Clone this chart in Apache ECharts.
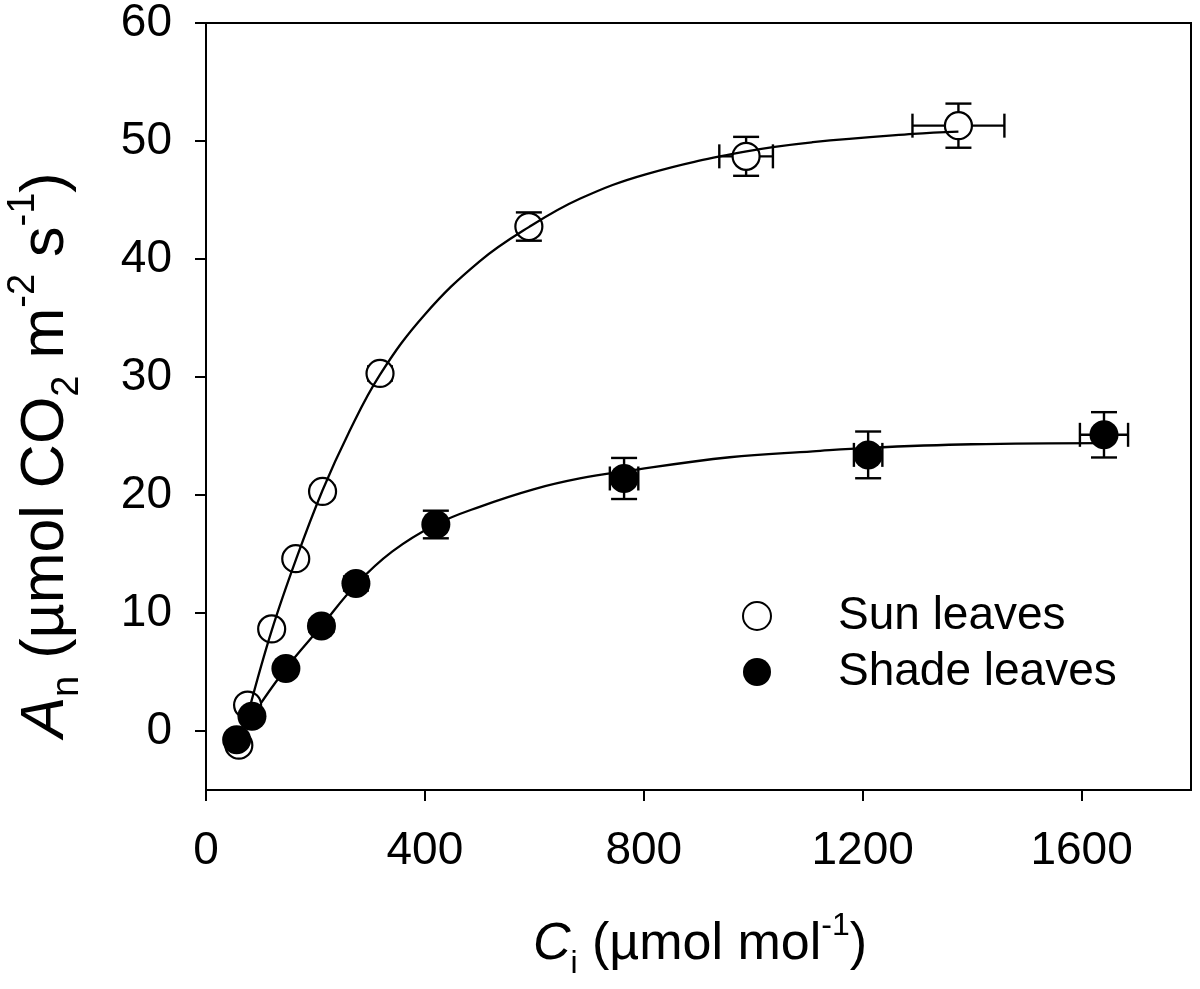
<!DOCTYPE html>
<html lang="en">
<head>
    <meta charset="UTF-8">
    <title>An vs Ci</title>
    <script src="https://cdn.jsdelivr.net/npm/echarts@6/dist/echarts.min.js"></script>
</head>
<body style="margin: 0; background: #fff">
<div id="container" style="width: 1200px; height: 989px;"></div>
<script>
    // measured points (Ci, An) with error bars
    var sunCi = [60, 76, 120, 164, 213, 318, 590, 987, 1375];
    var sunAn = [-1.2, 2.2, 8.65, 14.6, 20.3, 30.3, 42.75, 48.7, 51.3];
    var sunCiErr = [3, 3, 4, 5, 6, 8, 12, 49, 84];
    var sunAnErr = [0.3, 0.3, 0.4, 0.4, 0.5, 0.6, 1.2, 1.65, 1.87];

    var shadeCi = [56, 84, 146, 211, 274, 420, 764, 1210, 1641];
    var shadeAn = [-0.75, 1.25, 5.3, 8.9, 12.5, 17.5, 21.4, 23.4, 25.1];
    var shadeCiErr = [3, 3, 4, 5, 6, 10, 26, 26, 44];
    var shadeAnErr = [0.3, 0.3, 0.4, 0.5, 0.6, 1.17, 1.74, 1.98, 1.92];

    // fitted curves
    var sunFitCi = [80, 120, 165, 213, 260, 318, 400, 500, 590, 683, 805, 985, 1109, 1292, 1375];
    var sunFitAn = [2.0, 8.5, 14.6, 20.4, 25.2, 30.2, 35.3, 39.8, 42.7, 45.1, 47.2, 49.1, 49.9, 50.6, 50.8];
    var shadeFitCi = [84, 146, 211, 274, 340, 420, 500, 600, 683, 764, 957, 1109, 1210, 1400, 1641];
    var shadeFitAn = [1.25, 5.3, 8.9, 12.4, 15.2, 17.5, 19.0, 20.5, 21.4, 22.0, 23.2, 23.7, 24.0, 24.3, 24.4];

    var xTicks = [0, 400, 800, 1200, 1600];
    var yTicks = [0, 10, 20, 30, 40, 50, 60];

    var FONT = "'Liberation Sans', Arial, sans-serif";

    function zip2(a, b) {
        return a.map(function (v, i) { return [v, b[i]]; });
    }
    function zip4(a, b, c, d) {
        return a.map(function (v, i) { return [v, b[i], c[i], d[i]]; });
    }

    function renderErr(params, api) {
        var x = api.value(0), y = api.value(1), ex = api.value(2), ey = api.value(3);
        var l = api.coord([x - ex, y]), r = api.coord([x + ex, y]);
        var t = api.coord([x, y + ey]), b = api.coord([x, y - ey]);
        var cw = 13, ch = 12;
        var st = { stroke: '#000', lineWidth: 2.4 };
        function seg(x1, y1, x2, y2) {
            return { type: 'line', shape: { x1: x1, y1: y1, x2: x2, y2: y2 }, style: st };
        }
        return {
            type: 'group',
            children: [
                seg(t[0], t[1], b[0], b[1]),
                seg(l[0], l[1], r[0], r[1]),
                seg(t[0] - cw, t[1], t[0] + cw, t[1]),
                seg(b[0] - cw, b[1], b[0] + cw, b[1]),
                seg(l[0], l[1] - ch, l[0], l[1] + ch),
                seg(r[0], r[1] - ch, r[0], r[1] + ch)
            ]
        };
    }

    function titleRich(size) {
        var small = Math.round(size * 0.62);
        var lh = Math.round(size * 1.35);
        return {
            i: { fontSize: size, fontStyle: 'italic', fontFamily: FONT, lineHeight: lh },
            n: { fontSize: size, fontFamily: FONT, lineHeight: lh },
            sub: { fontSize: small, fontFamily: FONT, verticalAlign: 'bottom', lineHeight: lh },
            sup: { fontSize: small, fontFamily: FONT, verticalAlign: 'top', lineHeight: lh }
        };
    }

    var chart = echarts.init(document.getElementById('container'), null, { renderer: 'canvas' });

    var option = {
        animation: false,
        backgroundColor: '#fff',
        textStyle: { fontFamily: FONT },
        grid: {
            left: 206, right: 9, top: 23, bottom: 199,
            show: true, borderColor: '#000', borderWidth: 2, backgroundColor: 'transparent'
        },
        legend: {
            orient: 'vertical',
            left: 737, top: 588,
            itemWidth: 28, itemHeight: 28, itemGap: 10,
            data: ['Sun leaves', 'Shade leaves'],
            textStyle: { fontSize: 46, color: '#000', fontFamily: FONT, padding: [0, 0, 0, 62] }
        },
        xAxis: {
            type: 'value', min: 0, max: 1800, interval: 400,
            axisLine: { onZero: false, lineStyle: { color: '#000', width: 2 } },
            axisTick: { show: true, length: 11, lineStyle: { color: '#000', width: 2 }, customValues: xTicks },
            axisLabel: {
                fontSize: 46, color: '#000', margin: 38, fontFamily: FONT, customValues: xTicks,
                formatter: function (v) { return String(v); }
            },
            splitLine: { show: false }
        },
        yAxis: {
            type: 'value', min: -5, max: 60,
            axisLine: { onZero: false, lineStyle: { color: '#000', width: 2 } },
            axisTick: { show: true, length: 11, lineStyle: { color: '#000', width: 2 }, customValues: yTicks },
            axisLabel: {
                fontSize: 46, color: '#000', margin: 34, fontFamily: FONT, customValues: yTicks,
                formatter: function (v) { return String(v); }
            },
            splitLine: { show: false }
        },
        graphic: [
            {
                type: 'text', x: 700, y: 945,
                style: {
                    text: '{i|C}{sub|i}{n| (µmol mol}{sup|-1}{n|)}',
                    align: 'center', verticalAlign: 'middle',
                    font: '52px ' + FONT, fill: '#000',
                    rich: titleRich(52)
                }
            },
            {
                type: 'text', x: 46, y: 455, rotation: Math.PI / 2,
                style: {
                    text: '{i|A}{sub|n}{n| (µmol CO}{sub|2}{n| m}{sup|-2}{n| s}{sup|-1}{n|)}',
                    align: 'center', verticalAlign: 'middle',
                    font: '61px ' + FONT, fill: '#000',
                    rich: titleRich(61)
                }
            }
        ],
        series: [
            {
                name: 'sunErr', type: 'custom', z: 1, silent: true,
                renderItem: renderErr,
                data: zip4(sunCi, sunAn, sunCiErr, sunAnErr)
            },
            {
                name: 'shadeErr', type: 'custom', z: 1, silent: true,
                renderItem: renderErr,
                data: zip4(shadeCi, shadeAn, shadeCiErr, shadeAnErr)
            },
            {
                name: 'Sun leaves', type: 'scatter', z: 3,
                symbol: 'circle', symbolSize: 27,
                itemStyle: { color: '#fff', borderColor: '#000', borderWidth: 2.2, opacity: 1 },
                data: zip2(sunCi, sunAn)
            },
            {
                name: 'Shade leaves', type: 'scatter', z: 3,
                symbol: 'circle', symbolSize: 29,
                itemStyle: { color: '#000', borderColor: '#000', borderWidth: 0, opacity: 1 },
                data: zip2(shadeCi, shadeAn)
            },
            {
                name: 'sunFit', type: 'line', z: 4, smooth: 0.4, showSymbol: false, silent: true,
                lineStyle: { color: '#000', width: 2.3 },
                data: zip2(sunFitCi, sunFitAn)
            },
            {
                name: 'shadeFit', type: 'line', z: 2, smooth: 0.4, showSymbol: false, silent: true,
                lineStyle: { color: '#000', width: 2.3 },
                data: zip2(shadeFitCi, shadeFitAn)
            }
        ]
    };

    chart.setOption(option);
</script>
</body>
</html>
